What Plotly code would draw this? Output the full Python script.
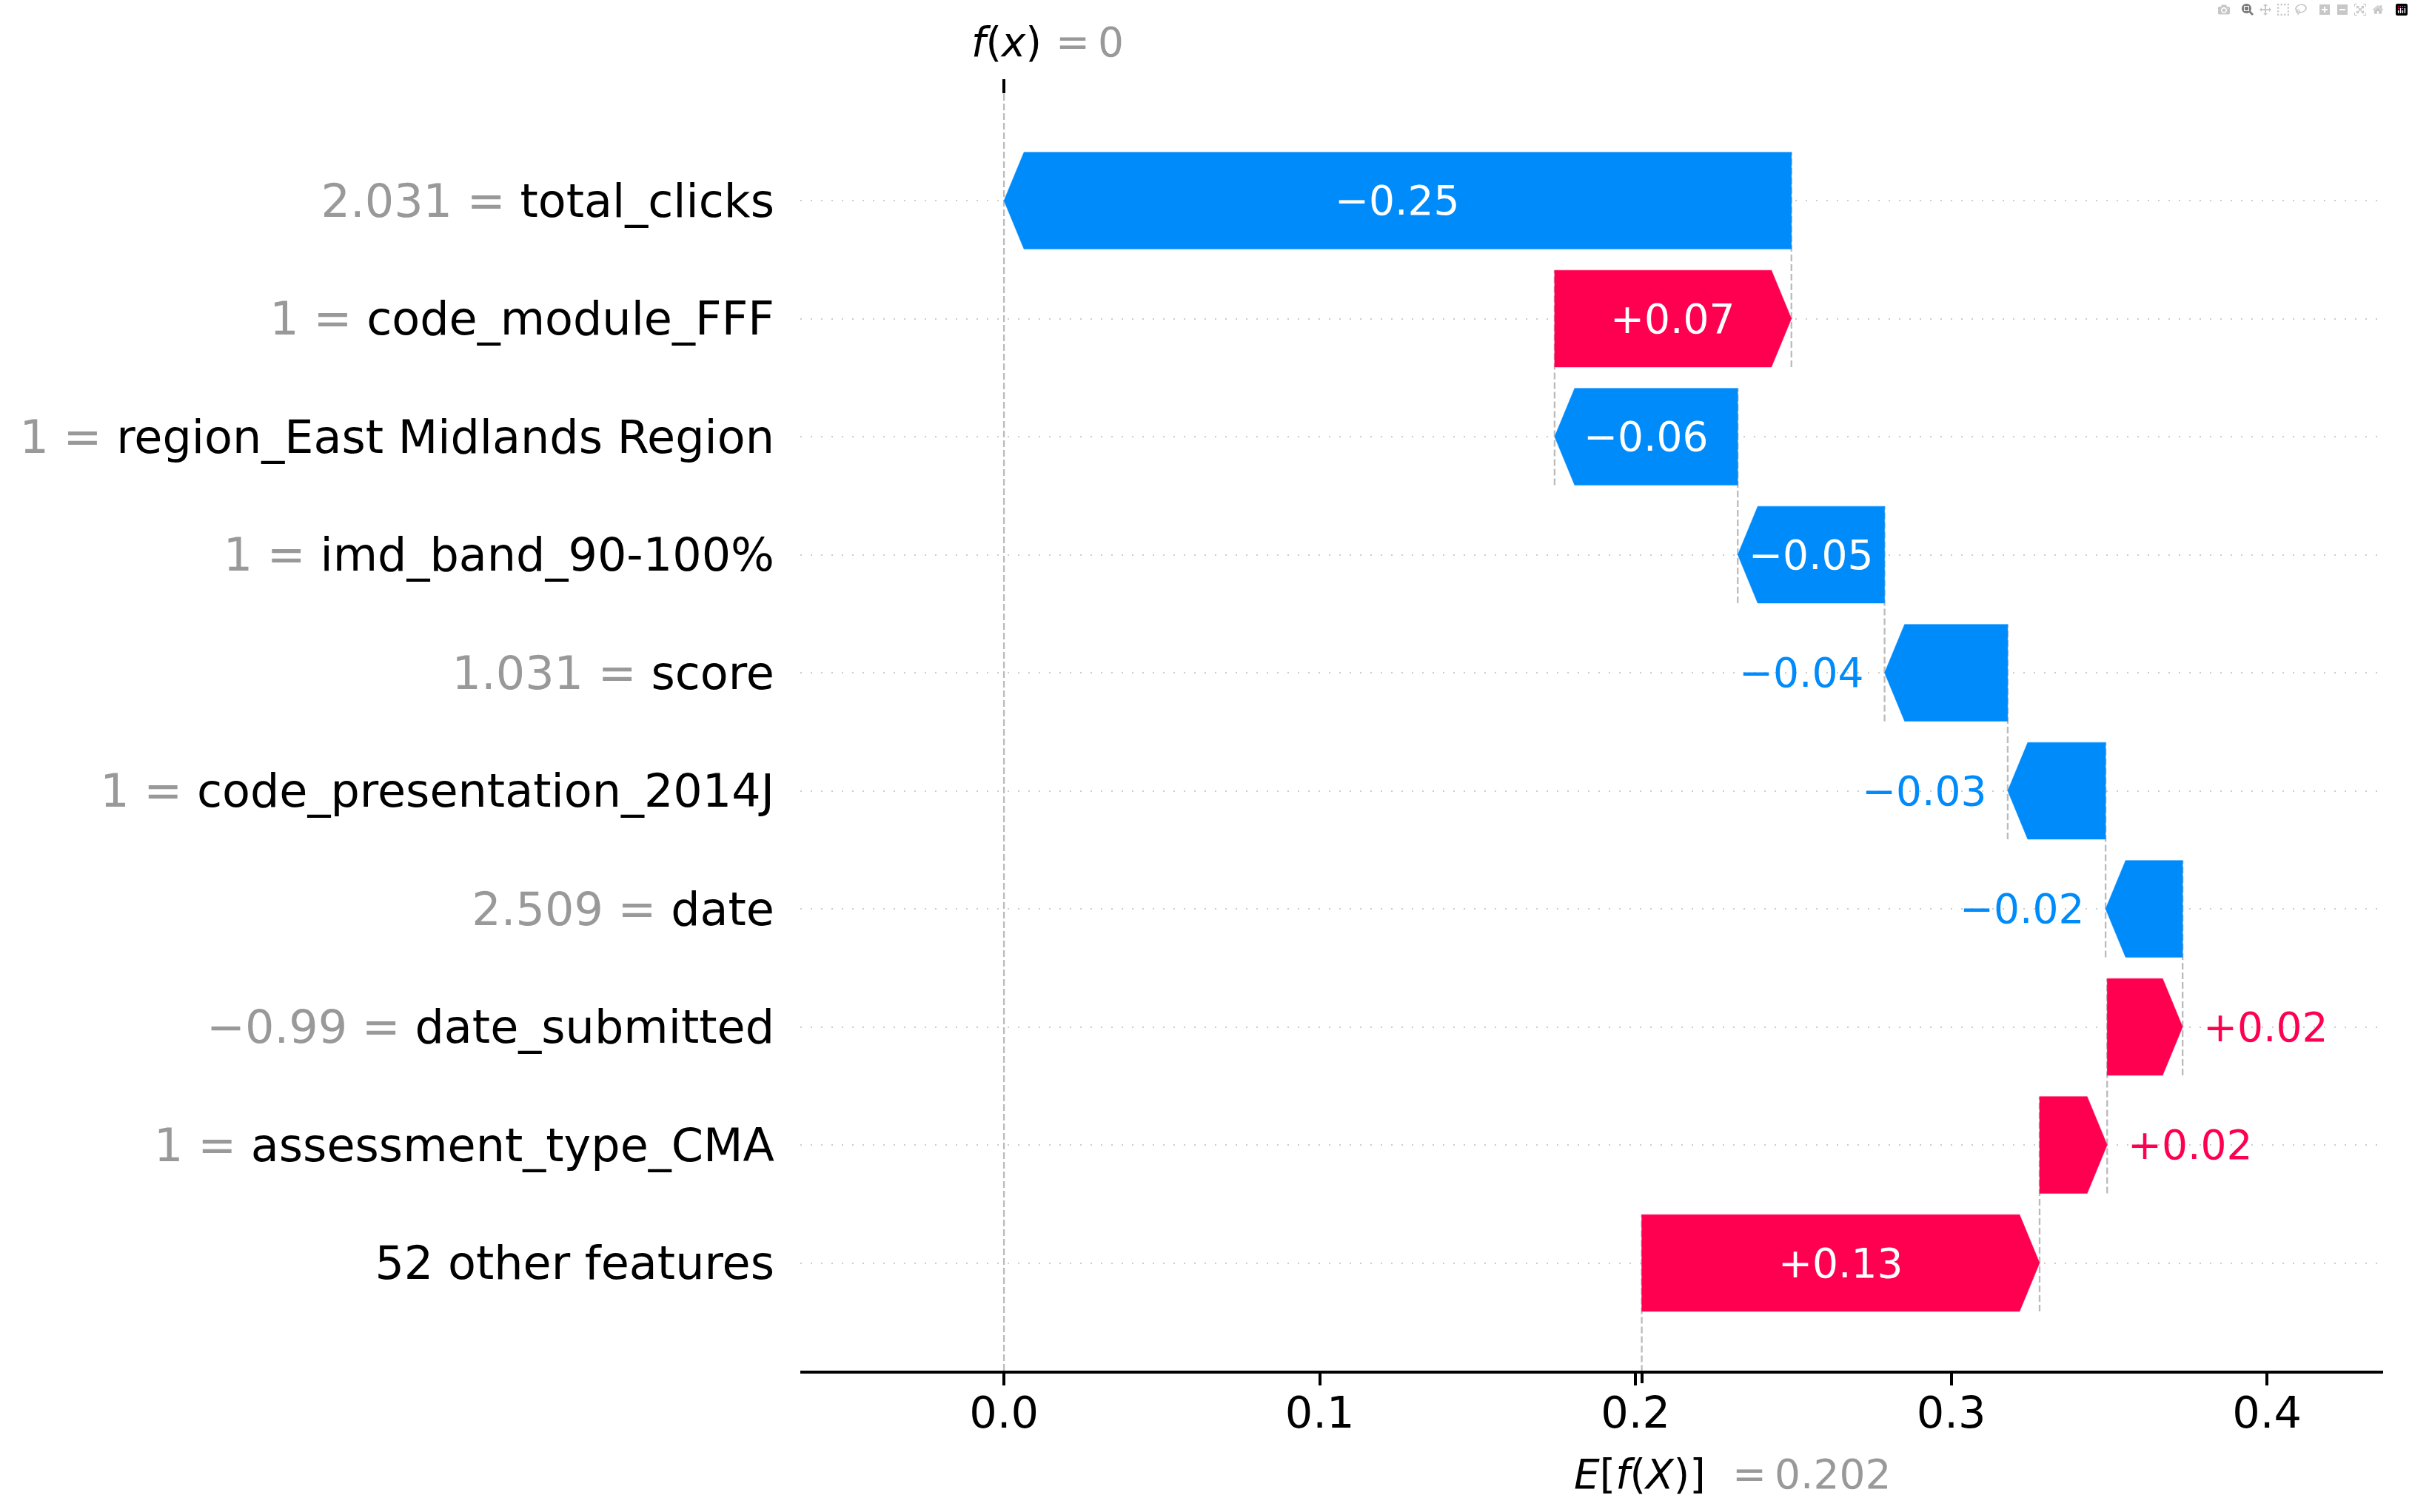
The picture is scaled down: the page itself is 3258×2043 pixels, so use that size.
import plotly.graph_objects as go

# ---------------- data ----------------
feature_names = [
    "total_clicks",
    "code_module_FFF",
    "region_East Midlands Region",
    "imd_band_90-100%",
    "score",
    "code_presentation_2014J",
    "date",
    "date_submitted",
    "assessment_type_CMA",
    "52 other features",
]
feature_values = [2.031, 1, 1, 1, 1.031, 1, 2.509, -0.99, 1, None]
shap_values = [-0.2494, 0.075, -0.058, -0.0465, -0.039, -0.031, -0.0244, 0.0239, 0.0214, 0.126]
base_value = 0.202
x_ticks = [0.0, 0.1, 0.2, 0.3, 0.4]
x_range = [-0.0645, 0.4368]
y_range = [-0.912, 9.903]

# ---------------- style ----------------
RED = "#ff0051"
BLUE = "#008bfb"
GREY_TXT = "#999999"
FONT = "DejaVu Sans"
W, H = 3258, 2043
M_L, M_R, M_T, M_B = 1081, 39, 127, 191
FS_LABEL, FS_TICK, FS_VAL, FS_MATH = 62, 59, 55, 55
BAR_H = 0.82
HEAD_PX = 27
LW = 3.7

plot_w = W - M_L - M_R
ppu = plot_w / (x_range[1] - x_range[0])
head_len = HEAD_PX / ppu


def fmt_val(v):
    s = f"{v:.3f}".rstrip("0").rstrip(".")
    return s.replace("-", "\u2212")


def fmt_shap(v):
    return f"{v:+.2f}".replace("-", "\u2212")


CHAR_W = {"0": .636, "1": .636, "2": .636, "3": .636, "4": .636, "5": .636, "6": .636,
          "7": .636, "8": .636, "9": .636, ".": .318, "+": .838, "\u2212": .838}


def text_px(s, fs):
    return sum(CHAR_W.get(c, .6) for c in s) * fs


n = len(feature_names)
y_pos = [n - 1 - i for i in range(n)]

# cumulative positions, built bottom-up from the base value
starts = [0.0] * n
ends = [0.0] * n
cum = base_value
for i in range(n - 1, -1, -1):
    starts[i] = cum
    cum = cum + shap_values[i]
    ends[i] = cum
fx = round(cum, 3) + 0.0

fig = go.Figure()

# connector dashed lines (behind bars)
for i in range(n):
    r = y_pos[i]
    fig.add_trace(go.Scatter(
        x=[starts[i], starts[i]], y=[r - 1 - BAR_H / 2, r + BAR_H / 2],
        mode="lines", line=dict(color="#bbbbbb", width=2.3, dash="9px,4px"),
        hoverinfo="skip", showlegend=False))
fig.add_trace(go.Scatter(
    x=[fx, fx], y=[y_range[0], y_range[1]],
    mode="lines", line=dict(color="#bbbbbb", width=2.3, dash="9px,4px"),
    hoverinfo="skip", showlegend=False))

annotations = []
for i in range(n):
    r = y_pos[i]
    x0, x1, v = starts[i], ends[i], shap_values[i]
    col = RED if v > 0 else BLUE
    hl = min(head_len, abs(v))
    d = 1 if v > 0 else -1
    xb = x1 - d * hl
    xs = [x0, xb, x1, xb, x0, x0]
    ys = [r + BAR_H / 2, r + BAR_H / 2, r, r - BAR_H / 2, r - BAR_H / 2, r + BAR_H / 2]
    fig.add_trace(go.Scatter(
        x=xs, y=ys, mode="lines", fill="toself", fillcolor=col,
        line=dict(color=col, width=0.5), hoverinfo="skip", showlegend=False))
    lab = fmt_shap(v)
    bar_px = abs(v) * ppu
    if text_px(lab, FS_VAL) <= bar_px:
        annotations.append(dict(x=(x0 + x1) / 2, y=r, xref="x", yref="y", text=lab,
                                showarrow=False, xanchor="center", yanchor="middle",
                                font=dict(family=FONT, size=FS_VAL, color="#ffffff")))
    else:
        annotations.append(dict(x=x1, y=r, xref="x", yref="y", text=lab,
                                showarrow=False, xanchor="left" if v > 0 else "right",
                                yanchor="middle", xshift=26 * d,
                                font=dict(family=FONT, size=FS_VAL, color=col)))

# invisible helpers for the extra tick axes
fig.add_trace(go.Scatter(x=[fx], y=[0], xaxis="x2", mode="markers",
                         marker=dict(opacity=0), hoverinfo="skip", showlegend=False))
fig.add_trace(go.Scatter(x=[base_value], y=[0], xaxis="x3", mode="markers",
                         marker=dict(opacity=0), hoverinfo="skip", showlegend=False))

# y tick labels
ticktext = []
for name, fv in zip(feature_names, feature_values):
    if fv is None:
        ticktext.append(name)
    else:
        ticktext.append(f'<span style="color:{GREY_TXT}">{fmt_val(fv)} = </span>{name}')

# f(x) and E[f(X)] labels
annotations += [
    dict(x=fx, y=1, xref="x", yref="paper", text="<i>f</i>(<i>x</i>)", showarrow=False,
         xanchor="left", yanchor="middle", xshift=-46, yshift=70,
         font=dict(family=FONT, size=FS_MATH, color="#000000")),
    dict(x=fx, y=1, xref="x", yref="paper", text="=\u2009" + fmt_val(fx), showarrow=False,
         xanchor="left", yanchor="middle", xshift=68, yshift=70,
         font=dict(family=FONT, size=FS_MATH, color=GREY_TXT)),
    dict(x=base_value, y=0, xref="x", yref="paper", text="<i>E</i>[<i>f</i>(<i>X</i>)]",
         showarrow=False, xanchor="left", yanchor="middle", xshift=-94, yshift=-140,
         font=dict(family=FONT, size=FS_MATH, color="#000000")),
    dict(x=base_value, y=0, xref="x", yref="paper", text="=\u2009" + f"{base_value:.3f}",
         showarrow=False, xanchor="left", yanchor="middle", xshift=120, yshift=-140,
         font=dict(family=FONT, size=FS_MATH, color=GREY_TXT)),
]

fig.update_layout(
    width=W, height=H, template="none",
    margin=dict(l=M_L, r=M_R, t=M_T, b=M_B, pad=0),
    paper_bgcolor="white", plot_bgcolor="white",
    showlegend=False, font=dict(family=FONT, color="#000000"),
    annotations=annotations,
    xaxis=dict(range=x_range, tickvals=x_ticks, ticktext=[f"{t:.1f}" for t in x_ticks],
               showline=True, linecolor="#000000", linewidth=LW, ticks="outside",
               ticklen=16, tickwidth=LW, tickcolor="#000000", showgrid=False,
               zeroline=False, tickfont=dict(family=FONT, size=FS_TICK, color="#000000"),
               ticklabelstandoff=-14, automargin=False, fixedrange=True),
    xaxis2=dict(range=x_range, overlaying="x", side="top", anchor="y", tickvals=[fx],
                ticks="outside", ticklen=19, tickwidth=LW, tickcolor="#000000",
                showticklabels=False, showgrid=False, zeroline=False, showline=False,
                automargin=False),
    xaxis3=dict(range=x_range, overlaying="x", side="bottom", anchor="y",
                tickvals=[base_value], ticks="outside", ticklen=16, tickwidth=LW,
                tickcolor="#000000", showticklabels=False, showgrid=False,
                zeroline=False, showline=False, automargin=False),
    yaxis=dict(range=y_range, tickvals=y_pos, ticktext=ticktext, showgrid=True,
               gridcolor="#cccccc", gridwidth=2.3, griddash="2px,12px", zeroline=False,
               showline=False, ticks="", tickfont=dict(family=FONT, size=FS_LABEL, color="#000000"),
               ticklabelstandoff=34, automargin=False, fixedrange=True),
)

fig.write_html("out.html", post_script="document.body.style.margin='0';document.body.style.overflow='hidden';")
